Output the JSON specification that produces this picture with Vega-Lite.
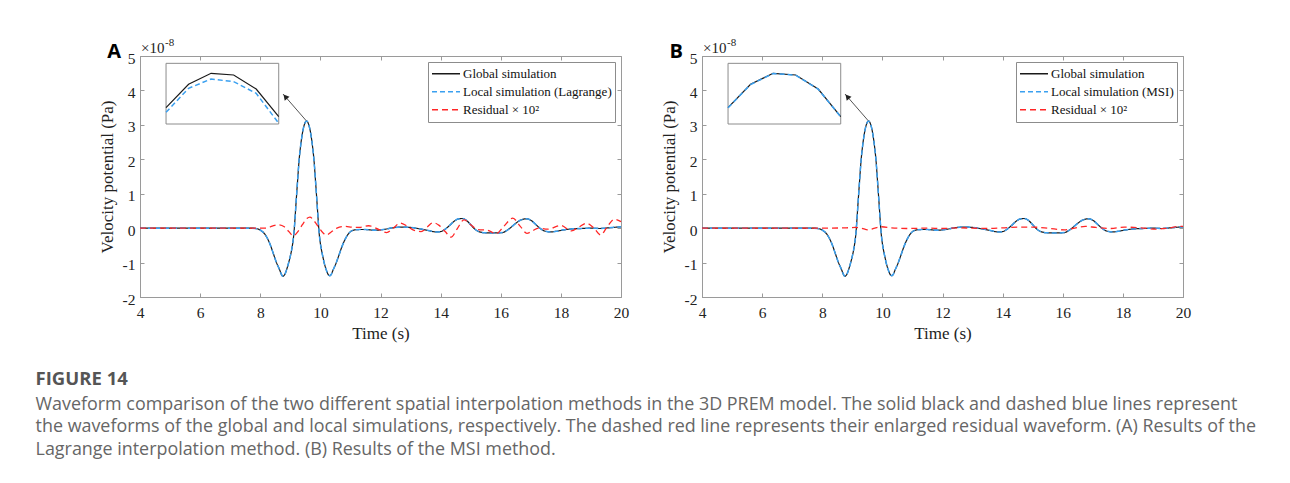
{
  "$schema": "https://vega.github.io/schema/vega-lite/v6.json",
  "background": "white",
  "padding": {"left": 35, "top": 36, "right": 5, "bottom": 5},
  "title": {
    "text": "FIGURE 14",
    "subtitle": [
      "Waveform comparison of the two different spatial interpolation methods in the 3D PREM model. The solid black and dashed blue lines represent",
      "the waveforms of the global and local simulations, respectively. The dashed red line represents their enlarged residual waveform. (A) Results of the",
      "Lagrange interpolation method. (B) Results of the MSI method."
    ],
    "orient": "bottom",
    "anchor": "start",
    "frame": "bounds",
    "dx": -62,
    "offset": 28,
    "font": "Open Sans",
    "fontSize": 18.5,
    "fontWeight": "bold",
    "color": "#555555",
    "subtitleFont": "Open Sans",
    "subtitleFontSize": 17.9,
    "subtitleColor": "#666666",
    "subtitleLineHeight": 22.5,
    "subtitlePadding": 7
  },
  "datasets": {
    "w": [
      {"t":4,"G":0,"LA":0,"LB":0},{"t":5,"G":0,"LA":0,"LB":0},{"t":6,"G":0,"LA":0,"LB":0},{"t":7,"G":0,"LA":0,"LB":0},
      {"t":7.7,"G":0,"LA":0,"LB":0},{"t":7.84,"G":-0.01,"LA":-0.01,"LB":-0.01},{"t":7.94,"G":-0.03,"LA":-0.03,"LB":-0.03},
      {"t":8.04,"G":-0.08,"LA":-0.08,"LB":-0.08},{"t":8.14,"G":-0.16,"LA":-0.16,"LB":-0.16},{"t":8.24,"G":-0.3,"LA":-0.3,"LB":-0.3},
      {"t":8.34,"G":-0.5,"LA":-0.5,"LB":-0.5},{"t":8.44,"G":-0.75,"LA":-0.75,"LB":-0.75},{"t":8.53,"G":-0.98,"LA":-0.98,"LB":-0.98},
      {"t":8.64,"G":-1.2,"LA":-1.2,"LB":-1.2},{"t":8.72,"G":-1.37,"LA":-1.37,"LB":-1.37},{"t":8.76,"G":-1.4,"LA":-1.4,"LB":-1.4},
      {"t":8.79,"G":-1.38,"LA":-1.38,"LB":-1.38},{"t":8.84,"G":-1.3,"LA":-1.3,"LB":-1.3},{"t":8.89,"G":-1.17,"LA":-1.17,"LB":-1.17},
      {"t":8.94,"G":-1.02,"LA":-1.02,"LB":-1.02},{"t":8.99,"G":-0.85,"LA":-0.85,"LB":-0.85},{"t":9.04,"G":-0.65,"LA":-0.65,"LB":-0.65},
      {"t":9.09,"G":-0.38,"LA":-0.38,"LB":-0.38},{"t":9.12,"G":-0.15,"LA":-0.15,"LB":-0.15},{"t":9.15,"G":0.2,"LA":0.2,"LB":0.2},
      {"t":9.19,"G":0.72,"LA":0.72,"LB":0.72},{"t":9.24,"G":1.35,"LA":1.35,"LB":1.35},{"t":9.295,"G":2.0,"LA":2.0,"LB":2.0},
      {"t":9.34,"G":2.37,"LA":2.37,"LB":2.37},{"t":9.39,"G":2.69,"LA":2.69,"LB":2.69},{"t":9.44,"G":2.92,"LA":2.92,"LB":2.92},
      {"t":9.49,"G":3.06,"LA":3.06,"LB":3.06},{"t":9.54,"G":3.11,"LA":3.11,"LB":3.11},{"t":9.59,"G":3.06,"LA":3.06,"LB":3.06},
      {"t":9.64,"G":2.92,"LA":2.92,"LB":2.92},{"t":9.69,"G":2.69,"LA":2.69,"LB":2.69},{"t":9.74,"G":2.37,"LA":2.37,"LB":2.37},
      {"t":9.785,"G":2.0,"LA":2.0,"LB":2.0},{"t":9.84,"G":1.35,"LA":1.35,"LB":1.35},{"t":9.89,"G":0.72,"LA":0.72,"LB":0.72},
      {"t":9.93,"G":0.2,"LA":0.2,"LB":0.2},{"t":9.96,"G":-0.15,"LA":-0.15,"LB":-0.15},{"t":9.99,"G":-0.38,"LA":-0.38,"LB":-0.38},
      {"t":10.04,"G":-0.65,"LA":-0.65,"LB":-0.65},{"t":10.09,"G":-0.86,"LA":-0.86,"LB":-0.86},{"t":10.13,"G":-1.02,"LA":-1.02,"LB":-1.02},
      {"t":10.18,"G":-1.17,"LA":-1.17,"LB":-1.17},{"t":10.23,"G":-1.29,"LA":-1.29,"LB":-1.29},{"t":10.27,"G":-1.36,"LA":-1.36,"LB":-1.36},
      {"t":10.31,"G":-1.38,"LA":-1.38,"LB":-1.38},{"t":10.35,"G":-1.36,"LA":-1.36,"LB":-1.36},{"t":10.42,"G":-1.22,"LA":-1.22,"LB":-1.22},
      {"t":10.53,"G":-1.0,"LA":-1.0,"LB":-1.0},{"t":10.62,"G":-0.78,"LA":-0.78,"LB":-0.78},{"t":10.72,"G":-0.53,"LA":-0.53,"LB":-0.53},
      {"t":10.82,"G":-0.33,"LA":-0.33,"LB":-0.33},{"t":10.92,"G":-0.18,"LA":-0.18,"LB":-0.18},{"t":11.02,"G":-0.09,"LA":-0.09,"LB":-0.09},
      {"t":11.15,"G":-0.05,"LA":-0.05,"LB":-0.05},{"t":11.3,"G":-0.04,"LA":-0.04,"LB":-0.04},{"t":11.5,"G":-0.04,"LA":-0.04,"LB":-0.04},
      {"t":11.8,"G":-0.06,"LA":-0.06,"LB":-0.06},{"t":12.1,"G":-0.04,"LA":-0.04,"LB":-0.04},{"t":12.4,"G":0.01,"LA":0.01,"LB":0.01},
      {"t":12.7,"G":0.03,"LA":0.03,"LB":0.03},{"t":13.0,"G":0.02,"LA":0.02,"LB":0.02},{"t":13.3,"G":-0.02,"LA":-0.02,"LB":-0.02},
      {"t":13.6,"G":-0.07,"LA":-0.07,"LB":-0.07},{"t":13.85,"G":-0.11,"LA":-0.11,"LB":-0.11},{"t":14.0,"G":-0.1,"LA":-0.1,"LB":-0.1},
      {"t":14.15,"G":-0.03,"LA":-0.03,"LB":-0.03},{"t":14.3,"G":0.08,"LA":0.08,"LB":0.08},{"t":14.45,"G":0.2,"LA":0.2,"LB":0.2},
      {"t":14.6,"G":0.27,"LA":0.27,"LB":0.27},{"t":14.72,"G":0.28,"LA":0.28,"LB":0.28},{"t":14.85,"G":0.23,"LA":0.23,"LB":0.23},
      {"t":15.0,"G":0.1,"LA":0.1,"LB":0.1},{"t":15.15,"G":-0.04,"LA":-0.04,"LB":-0.04},{"t":15.3,"G":-0.11,"LA":-0.11,"LB":-0.11},
      {"t":15.5,"G":-0.135,"LA":-0.135,"LB":-0.135},{"t":15.8,"G":-0.14,"LA":-0.14,"LB":-0.14},{"t":16.05,"G":-0.13,"LA":-0.13,"LB":-0.13},
      {"t":16.2,"G":-0.07,"LA":-0.07,"LB":-0.07},{"t":16.35,"G":0.03,"LA":0.03,"LB":0.03},{"t":16.5,"G":0.14,"LA":0.14,"LB":0.14},
      {"t":16.65,"G":0.23,"LA":0.23,"LB":0.23},{"t":16.85,"G":0.27,"LA":0.27,"LB":0.27},{"t":17.0,"G":0.23,"LA":0.23,"LB":0.23},
      {"t":17.15,"G":0.12,"LA":0.12,"LB":0.12},{"t":17.3,"G":0.0,"LA":0.0,"LB":0.0},{"t":17.45,"G":-0.08,"LA":-0.08,"LB":-0.08},
      {"t":17.65,"G":-0.11,"LA":-0.11,"LB":-0.11},{"t":17.85,"G":-0.09,"LA":-0.09,"LB":-0.09},{"t":18.1,"G":-0.05,"LA":-0.05,"LB":-0.05},
      {"t":18.4,"G":-0.02,"LA":-0.02,"LB":-0.02},{"t":18.7,"G":-0.01,"LA":-0.01,"LB":-0.01},{"t":19.0,"G":0.0,"LA":0.0,"LB":0.0},
      {"t":19.3,"G":-0.01,"LA":-0.01,"LB":-0.01},{"t":19.6,"G":0.01,"LA":0.01,"LB":0.01},{"t":20.0,"G":0.04,"LA":0.04,"LB":0.04}
    ],
    "rA": [
      {"t":4,"RA":0},{"t":6,"RA":0},{"t":7.9,"RA":0},{"t":8.2,"RA":0.0},{"t":8.4,"RA":0.06},{"t":8.6,"RA":0.1},{"t":8.8,"RA":0.04},
      {"t":8.95,"RA":-0.1},{"t":9.1,"RA":-0.22},{"t":9.25,"RA":-0.1},{"t":9.4,"RA":0.1},{"t":9.55,"RA":0.28},{"t":9.65,"RA":0.32},
      {"t":9.8,"RA":0.2},{"t":9.95,"RA":0.02},{"t":10.1,"RA":-0.15},{"t":10.2,"RA":-0.2},{"t":10.35,"RA":-0.12},{"t":10.55,"RA":0.0},
      {"t":10.8,"RA":0.05},{"t":11.05,"RA":0.03},{"t":11.3,"RA":0.02},{"t":11.6,"RA":0.07},{"t":11.95,"RA":-0.04},{"t":12.2,"RA":-0.13},
      {"t":12.45,"RA":0.02},{"t":12.65,"RA":0.15},{"t":12.9,"RA":0.05},{"t":13.1,"RA":-0.06},{"t":13.35,"RA":-0.1},{"t":13.55,"RA":0.03},
      {"t":13.75,"RA":0.16},{"t":13.95,"RA":0.08},{"t":14.15,"RA":-0.1},{"t":14.35,"RA":-0.26},{"t":14.55,"RA":-0.02},{"t":14.78,"RA":0.24},
      {"t":15.0,"RA":0.1},{"t":15.25,"RA":-0.04},{"t":15.55,"RA":-0.06},{"t":15.85,"RA":-0.16},{"t":16.1,"RA":0.05},{"t":16.4,"RA":0.29},
      {"t":16.65,"RA":0.05},{"t":16.87,"RA":-0.15},{"t":17.05,"RA":-0.08},{"t":17.25,"RA":0.0},{"t":17.55,"RA":-0.03},{"t":18.0,"RA":0.08},
      {"t":18.35,"RA":-0.08},{"t":18.6,"RA":0.03},{"t":18.85,"RA":0.14},{"t":19.1,"RA":0.0},{"t":19.32,"RA":-0.2},{"t":19.55,"RA":0.05},
      {"t":19.78,"RA":0.26},{"t":20.0,"RA":0.19}
    ],
    "rB": [
      {"t":4,"RB":0},{"t":6,"RB":0},{"t":8,"RB":0},{"t":8.8,"RB":0.01},{"t":9.1,"RB":0.02},{"t":9.3,"RB":0.0},{"t":9.52,"RB":-0.05},
      {"t":9.75,"RB":0.0},{"t":9.98,"RB":0.04},{"t":10.3,"RB":0.01},{"t":10.8,"RB":-0.01},{"t":11.5,"RB":0.0},{"t":12.0,"RB":-0.01},
      {"t":12.5,"RB":0.01},{"t":13.0,"RB":0.0},{"t":13.5,"RB":-0.01},{"t":14.0,"RB":0.01},{"t":14.5,"RB":0.03},{"t":15.0,"RB":0.03},
      {"t":15.5,"RB":0.0},{"t":16.05,"RB":-0.05},{"t":16.4,"RB":0.0},{"t":16.75,"RB":0.05},{"t":17.1,"RB":0.02},{"t":17.6,"RB":-0.01},
      {"t":18.05,"RB":0.03},{"t":18.6,"RB":0.01},{"t":19.1,"RB":-0.03},{"t":19.5,"RB":0.0},{"t":19.9,"RB":0.05},{"t":20.0,"RB":0.05}
    ],
    "ins": [
      {"t":9.44,"G":3.0894,"LA":3.0866,"LB":3.0893},
      {"t":9.46,"G":3.1034,"LA":3.1010,"LB":3.1033},
      {"t":9.48,"G":3.1100,"LA":3.1066,"LB":3.1099},
      {"t":9.50,"G":3.1090,"LA":3.1050,"LB":3.1089},
      {"t":9.52,"G":3.1006,"LA":3.0980,"LB":3.1005},
      {"t":9.54,"G":3.0840,"LA":3.0800,"LB":3.0839}
    ],
    "box": [{"x0":9.44,"x1":9.54,"y0":3.0796,"y1":3.116}],
    "arrow": [{"x":9.53,"y":3.12,"x2":8.757,"y2":3.896,"hx":8.834,"hy":3.819}],
    "corner": [{"t":4,"v":5}]
  },
  "hconcat": [
    {
      "width": 481,
      "height": 241,
      "layer": [
        {
          "layer": [
            {
              "data": {"name": "w"},
              "transform": [{"fold": ["G"], "as": ["s", "v"]}],
              "mark": {"type": "line", "strokeWidth": 1.2, "interpolate": "monotone"},
              "encoding": {
                "x": {"field": "t", "type": "quantitative", "scale": {"domain": [4, 20], "nice": false},
                  "axis": {"orient": "bottom", "values": [4,6,8,10,12,14,16,18,20], "title": "Time (s)", "labelPadding": 12, "titlePadding": 5}},
                "y": {"field": "v", "type": "quantitative", "scale": {"domain": [-2, 5], "nice": false},
                  "axis": {"orient": "left", "values": [-2,-1,0,1,2,3,4,5], "title": "Velocity potential (Pa)", "labelPadding": 9, "labelOffset": 2, "titlePadding": 6, "labelExpr": "'' + datum.value"}},
                "color": {"field": "s", "type": "nominal",
                  "scale": {"domain": ["G", "LA", "RA"], "range": ["#1a1a1a", "#3aa0f0", "#ff2626"]},
                  "legend": {"labelExpr": "datum.value == 'G' ? 'Global simulation' : datum.value == 'LA' ? 'Local simulation (Lagrange)' : 'Residual × 10²'"}},
                "strokeDash": {"field": "s", "type": "nominal",
                  "scale": {"domain": ["G", "LA", "RA"], "range": [[1, 0], [5, 3], [6, 4]]},
                  "legend": {"labelExpr": "datum.value == 'G' ? 'Global simulation' : datum.value == 'LA' ? 'Local simulation (Lagrange)' : 'Residual × 10²'"}}
              }
            },
            {
              "data": {"name": "w"},
              "transform": [{"fold": ["LA"], "as": ["s", "v"]}],
              "mark": {"type": "line", "strokeWidth": 1.5, "interpolate": "monotone"},
              "encoding": {
                "x": {"field": "t", "type": "quantitative", "axis": {"orient": "top", "values": [4,6,8,10,12,14,16,18,20], "labels": false, "domain": false, "title": null}},
                "y": {"field": "v", "type": "quantitative", "axis": {"orient": "right", "values": [-2,-1,0,1,2,3,4,5], "labels": false, "domain": false, "title": null}},
                "color": {"field": "s", "type": "nominal"},
                "strokeDash": {"field": "s", "type": "nominal"}
              }
            },
            {
              "data": {"name": "rA"},
              "transform": [{"fold": ["RA"], "as": ["s", "v"]}],
              "mark": {"type": "line", "strokeWidth": 1.3, "interpolate": "monotone"},
              "encoding": {
                "x": {"field": "t", "type": "quantitative", "axis": null},
                "y": {"field": "v", "type": "quantitative", "axis": null},
                "color": {"field": "s", "type": "nominal"},
                "strokeDash": {"field": "s", "type": "nominal"}
              }
            },
            {
              "data": {"name": "arrow"},
              "mark": {"type": "rule", "color": "#555555", "strokeWidth": 1},
              "encoding": {
                "x": {"field": "x", "type": "quantitative", "axis": null},
                "y": {"field": "y", "type": "quantitative", "axis": null},
                "x2": {"field": "x2"},
                "y2": {"field": "y2"}
              }
            },
            {
              "data": {"name": "arrow"},
              "mark": {"type": "point", "shape": "triangle-up", "filled": true, "color": "#222222", "size": 40, "angle": 319, "opacity": 1},
              "encoding": {
                "x": {"field": "hx", "type": "quantitative", "axis": null},
                "y": {"field": "hy", "type": "quantitative", "axis": null}
              }
            },
            {
              "data": {"name": "corner"},
              "mark": {"type": "text", "text": "A", "font": "Open Sans", "fontWeight": "bold", "fontSize": 20, "align": "right", "baseline": "alphabetic", "dx": -19, "dy": 2, "color": "#000000"},
              "encoding": {
                "x": {"field": "t", "type": "quantitative", "axis": null},
                "y": {"field": "v", "type": "quantitative", "axis": null}
              }
            },
            {
              "data": {"name": "corner"},
              "mark": {"type": "text", "text": "×10", "font": "Liberation Serif", "fontSize": 15, "align": "left", "baseline": "alphabetic", "dx": 1, "dy": -3, "color": "#222222"},
              "encoding": {
                "x": {"field": "t", "type": "quantitative", "axis": null},
                "y": {"field": "v", "type": "quantitative", "axis": null}
              }
            },
            {
              "data": {"name": "corner"},
              "mark": {"type": "text", "text": "-8", "font": "Liberation Serif", "fontSize": 11, "align": "left", "baseline": "alphabetic", "dx": 25, "dy": -10, "color": "#222222"},
              "encoding": {
                "x": {"field": "t", "type": "quantitative", "axis": null},
                "y": {"field": "v", "type": "quantitative", "axis": null}
              }
            }
          ],
          "resolve": {"axis": {"x": "independent", "y": "independent"}}
        },
        {
          "layer": [
            {
              "data": {"name": "box"},
              "mark": {"type": "rect", "fill": "white", "stroke": "#8c8c8c", "strokeWidth": 1},
              "encoding": {
                "x": {"field": "x0", "type": "quantitative", "scale": {"domain": [9.4169, 9.8437], "nice": false, "zero": false}, "axis": null},
                "x2": {"field": "x1"},
                "y": {"field": "y0", "type": "quantitative", "scale": {"domain": [2.9758, 3.1204], "nice": false, "zero": false}, "axis": null},
                "y2": {"field": "y1"}
              }
            },
            {
              "data": {"name": "ins"},
              "mark": {"type": "line", "color": "#1a1a1a", "strokeWidth": 1.2},
              "encoding": {
                "x": {"field": "t", "type": "quantitative", "axis": null},
                "y": {"field": "G", "type": "quantitative", "axis": null}
              }
            },
            {
              "data": {"name": "ins"},
              "mark": {"type": "line", "color": "#3aa0f0", "strokeWidth": 1.5, "strokeDash": [5, 3]},
              "encoding": {
                "x": {"field": "t", "type": "quantitative", "axis": null},
                "y": {"field": "LA", "type": "quantitative", "axis": null}
              }
            }
          ]
        }
      ],
      "resolve": {"scale": {"x": "independent", "y": "independent"}}
    },
    {
      "width": 481,
      "height": 241,
      "layer": [
        {
          "layer": [
            {
              "data": {"name": "w"},
              "transform": [{"fold": ["G"], "as": ["s", "v"]}],
              "mark": {"type": "line", "strokeWidth": 1.2, "interpolate": "monotone"},
              "encoding": {
                "x": {"field": "t", "type": "quantitative", "scale": {"domain": [4, 20], "nice": false},
                  "axis": {"orient": "bottom", "values": [4,6,8,10,12,14,16,18,20], "title": "Time (s)", "labelPadding": 12, "titlePadding": 5}},
                "y": {"field": "v", "type": "quantitative", "scale": {"domain": [-2, 5], "nice": false},
                  "axis": {"orient": "left", "values": [-2,-1,0,1,2,3,4,5], "title": "Velocity potential (Pa)", "labelPadding": 9, "labelOffset": 2, "titlePadding": 6, "labelExpr": "'' + datum.value"}},
                "color": {"field": "s", "type": "nominal",
                  "scale": {"domain": ["G", "LB", "RB"], "range": ["#1a1a1a", "#3aa0f0", "#ff2626"]},
                  "legend": {"labelExpr": "datum.value == 'G' ? 'Global simulation' : datum.value == 'LB' ? 'Local simulation (MSI)' : 'Residual × 10²'"}},
                "strokeDash": {"field": "s", "type": "nominal",
                  "scale": {"domain": ["G", "LB", "RB"], "range": [[1, 0], [5, 3], [6, 4]]},
                  "legend": {"labelExpr": "datum.value == 'G' ? 'Global simulation' : datum.value == 'LB' ? 'Local simulation (MSI)' : 'Residual × 10²'"}}
              }
            },
            {
              "data": {"name": "w"},
              "transform": [{"fold": ["LB"], "as": ["s", "v"]}],
              "mark": {"type": "line", "strokeWidth": 1.5, "interpolate": "monotone"},
              "encoding": {
                "x": {"field": "t", "type": "quantitative", "axis": {"orient": "top", "values": [4,6,8,10,12,14,16,18,20], "labels": false, "domain": false, "title": null}},
                "y": {"field": "v", "type": "quantitative", "axis": {"orient": "right", "values": [-2,-1,0,1,2,3,4,5], "labels": false, "domain": false, "title": null}},
                "color": {"field": "s", "type": "nominal"},
                "strokeDash": {"field": "s", "type": "nominal"}
              }
            },
            {
              "data": {"name": "rB"},
              "transform": [{"fold": ["RB"], "as": ["s", "v"]}],
              "mark": {"type": "line", "strokeWidth": 1.3, "interpolate": "monotone"},
              "encoding": {
                "x": {"field": "t", "type": "quantitative", "axis": null},
                "y": {"field": "v", "type": "quantitative", "axis": null},
                "color": {"field": "s", "type": "nominal"},
                "strokeDash": {"field": "s", "type": "nominal"}
              }
            },
            {
              "data": {"name": "arrow"},
              "mark": {"type": "rule", "color": "#555555", "strokeWidth": 1},
              "encoding": {
                "x": {"field": "x", "type": "quantitative", "axis": null},
                "y": {"field": "y", "type": "quantitative", "axis": null},
                "x2": {"field": "x2"},
                "y2": {"field": "y2"}
              }
            },
            {
              "data": {"name": "arrow"},
              "mark": {"type": "point", "shape": "triangle-up", "filled": true, "color": "#222222", "size": 40, "angle": 319, "opacity": 1},
              "encoding": {
                "x": {"field": "hx", "type": "quantitative", "axis": null},
                "y": {"field": "hy", "type": "quantitative", "axis": null}
              }
            },
            {
              "data": {"name": "corner"},
              "mark": {"type": "text", "text": "B", "font": "Open Sans", "fontWeight": "bold", "fontSize": 20, "align": "right", "baseline": "alphabetic", "dx": -19, "dy": 2, "color": "#000000"},
              "encoding": {
                "x": {"field": "t", "type": "quantitative", "axis": null},
                "y": {"field": "v", "type": "quantitative", "axis": null}
              }
            },
            {
              "data": {"name": "corner"},
              "mark": {"type": "text", "text": "×10", "font": "Liberation Serif", "fontSize": 15, "align": "left", "baseline": "alphabetic", "dx": 1, "dy": -3, "color": "#222222"},
              "encoding": {
                "x": {"field": "t", "type": "quantitative", "axis": null},
                "y": {"field": "v", "type": "quantitative", "axis": null}
              }
            },
            {
              "data": {"name": "corner"},
              "mark": {"type": "text", "text": "-8", "font": "Liberation Serif", "fontSize": 11, "align": "left", "baseline": "alphabetic", "dx": 25, "dy": -10, "color": "#222222"},
              "encoding": {
                "x": {"field": "t", "type": "quantitative", "axis": null},
                "y": {"field": "v", "type": "quantitative", "axis": null}
              }
            }
          ],
          "resolve": {"axis": {"x": "independent", "y": "independent"}}
        },
        {
          "layer": [
            {
              "data": {"name": "box"},
              "mark": {"type": "rect", "fill": "white", "stroke": "#8c8c8c", "strokeWidth": 1},
              "encoding": {
                "x": {"field": "x0", "type": "quantitative", "scale": {"domain": [9.4169, 9.8437], "nice": false, "zero": false}, "axis": null},
                "x2": {"field": "x1"},
                "y": {"field": "y0", "type": "quantitative", "scale": {"domain": [2.9758, 3.1204], "nice": false, "zero": false}, "axis": null},
                "y2": {"field": "y1"}
              }
            },
            {
              "data": {"name": "ins"},
              "mark": {"type": "line", "color": "#1a1a1a", "strokeWidth": 1.2},
              "encoding": {
                "x": {"field": "t", "type": "quantitative", "axis": null},
                "y": {"field": "G", "type": "quantitative", "axis": null}
              }
            },
            {
              "data": {"name": "ins"},
              "mark": {"type": "line", "color": "#3aa0f0", "strokeWidth": 1.5, "strokeDash": [5, 3]},
              "encoding": {
                "x": {"field": "t", "type": "quantitative", "axis": null},
                "y": {"field": "LB", "type": "quantitative", "axis": null}
              }
            }
          ]
        }
      ],
      "resolve": {"scale": {"x": "independent", "y": "independent"}}
    }
  ],
  "spacing": 29,
  "resolve": {
    "scale": {"x": "independent", "y": "independent", "color": "independent", "strokeDash": "independent"},
    "legend": {"color": "independent", "strokeDash": "independent"}
  },
  "config": {
    "view": {"stroke": "#9a9a9a", "strokeWidth": 1},
    "axis": {
      "labelFont": "Liberation Serif",
      "titleFont": "Liberation Serif",
      "labelFontSize": 15.5,
      "titleFontSize": 17,
      "titleFontWeight": "normal",
      "labelColor": "#222222",
      "titleColor": "#222222",
      "domainColor": "#9a9a9a",
      "tickColor": "#9a9a9a",
      "tickSize": -4,
      "grid": false,
      "labelFlush": false
    },
    "legend": {
      "orient": "top-right",
      "offset": 6,
      "title": null,
      "symbolType": "stroke",
      "symbolSize": 784,
      "symbolStrokeWidth": 1.5,
      "labelFont": "Liberation Serif",
      "labelFontSize": 13,
      "labelColor": "#111111",
      "labelOffset": 2,
      "strokeColor": "#8c8c8c",
      "fillColor": "white",
      "padding": 3,
      "rowPadding": 0,
      "clipHeight": 17.5,
      "labelLimit": 300
    }
  }
}
